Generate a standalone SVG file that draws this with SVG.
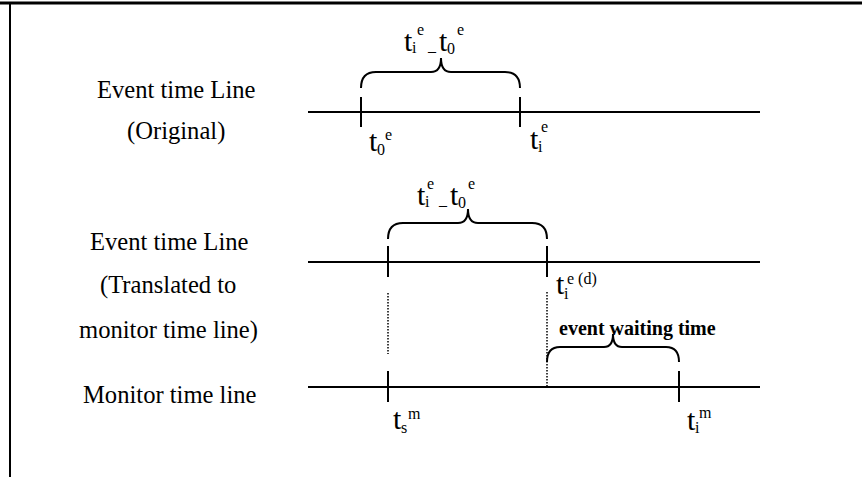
<svg xmlns="http://www.w3.org/2000/svg" width="862" height="477" viewBox="0 0 862 477">
<style>
.lbl{font-family:"Liberation Serif","Times New Roman",serif;font-size:24.6px;fill:#000}
.t{font-family:"Liberation Serif","Times New Roman",serif;font-size:30px;fill:#000}
.s{font-family:"Liberation Serif","Times New Roman",serif;font-size:16px;fill:#000}
.b{font-family:"Liberation Serif","Times New Roman",serif;font-size:20px;font-weight:bold;fill:#000}
.ln{stroke:#000;stroke-width:2;fill:none}
.dot{stroke:#000;stroke-width:1.5;stroke-dasharray:1.5 1.5;fill:none}
</style>
<rect width="862" height="477" fill="#fff"/>
<g id="frame">
<line class="ln" x1="0" y1="3" x2="862" y2="3" style="stroke-width:3"/>
<line class="ln" x1="10" y1="2" x2="10" y2="477"/>
</g>
<g id="labels">
<text class="lbl" x="97" y="98">Event time Line</text>
<text class="lbl" x="127" y="139">(Original)</text>
<text class="lbl" x="90" y="250">Event time Line</text>
<text class="lbl" x="100" y="293">(Translated to</text>
<text class="lbl" x="79" y="338">monitor time line)</text>
<text class="lbl" x="83" y="403">Monitor time line</text>
</g>
<g id="connectors">
<line class="ln" x1="308" y1="112" x2="760" y2="112"/>
<line class="ln" x1="361" y1="97" x2="361" y2="127"/>
<line class="ln" x1="520" y1="97" x2="520" y2="127"/>
<path class="ln" d="M361,88 Q361,72 376,72 L431,72 Q441,72 441,58 Q441,72 451,72 L505,72 Q520,72 520,88"/>
<line class="ln" x1="308" y1="262" x2="760" y2="262"/>
<line class="ln" x1="388" y1="246" x2="388" y2="277"/>
<line class="ln" x1="547" y1="246" x2="547" y2="277"/>
<path class="ln" d="M388,239 Q388,223 403,223 L458,223 Q468,223 468,209 Q468,223 478,223 L532,223 Q547,223 547,239"/>
<line class="dot" x1="388" y1="293" x2="388" y2="354"/>
<line class="dot" x1="547" y1="292" x2="547" y2="386"/>
<line class="ln" x1="308" y1="387" x2="760" y2="387"/>
<line class="ln" x1="388" y1="371" x2="388" y2="402"/>
<line class="ln" x1="679" y1="371" x2="679" y2="402"/>
<path class="ln" d="M547,362 Q547,347 560,347 L604,347 Q613,347 613,334 Q613,347 622,347 L666,347 Q679,347 679,362"/>
</g>
<g id="diff-top">
<text class="t" x="404" y="51">t</text><text class="s" x="412" y="53">i</text><text class="s" x="417" y="35">e</text>
<text class="s" x="428" y="56">–</text>
<text class="t" x="439" y="51">t</text><text class="s" x="447" y="54">0</text><text class="s" x="457" y="35">e</text>
</g>
<g id="t0e">
<text class="t" x="369" y="151">t</text><text class="s" x="377" y="155">0</text><text class="s" x="385" y="140">e</text>
</g>
<g id="tie">
<text class="t" x="530" y="149">t</text><text class="s" x="538" y="152">i</text><text class="s" x="541" y="132">e</text>
</g>
<g id="diff-mid">
<text class="t" x="417" y="205">t</text><text class="s" x="425" y="207">i</text><text class="s" x="427" y="189">e</text>
<text class="s" x="439" y="210">–</text>
<text class="t" x="450" y="205">t</text><text class="s" x="458" y="208">0</text><text class="s" x="468" y="189">e</text>
</g>
<g id="tied">
<text class="t" x="556" y="294">t</text><text class="s" x="564" y="299">i</text><text class="s" x="567" y="284">e (d)</text>
</g>
<g id="waiting">
<text class="b" x="559" y="335">event waiting time</text>
</g>
<g id="tsm">
<text class="t" x="393" y="429">t</text><text class="s" x="401" y="433">s</text><text class="s" x="408" y="419">m</text>
</g>
<g id="tim">
<text class="t" x="687" y="430">t</text><text class="s" x="695" y="433">i</text><text class="s" x="699" y="418">m</text>
</g>
</svg>
